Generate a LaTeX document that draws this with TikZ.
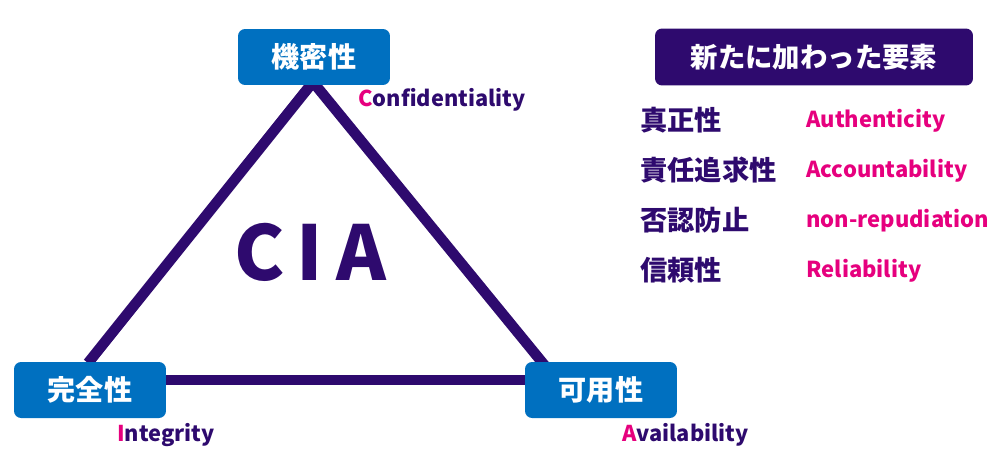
\documentclass[tikz,border=0pt]{standalone}
\usepackage{fontspec}
\setmainfont{Noto Sans CJK JP}
\begin{document}
\begin{tikzpicture}[x=0.02cm,y=-0.02cm,
  box/.style={fill=boxblue,rounded corners=4pt,text=white,font=\bfseries\fontsize{16}{18}\selectfont,minimum width=3.04cm,minimum height=1.12cm,inner sep=0pt},
  edge/.style={draw=cianavy,line width=6pt},
  lab/.style={text=cianavy,font=\bfseries\fontsize{12.4}{14}\selectfont,anchor=west,inner sep=0pt},
  jp/.style={text=cianavy,font=\bfseries\fontsize{15.5}{17}\selectfont,anchor=west,inner sep=0pt},
  en/.style={text=ciapink,font=\bfseries\fontsize{12.5}{14}\selectfont,anchor=west,inner sep=0pt}]
\definecolor{boxblue}{HTML}{0070C0}
\definecolor{cianavy}{HTML}{2E0A6E}
\definecolor{ciapink}{HTML}{E6007E}
\useasboundingbox (0,0) rectangle (1000,450);
\coordinate (T) at (313,82);
\coordinate (L) at (88,363);
\coordinate (R) at (546,367);
\draw[edge,line join=round] (L) -- (T) -- (R);
\draw[edge] (150,380) -- (540,380);
\node[box] (c) at (314,57) {機密性};
\node[box] (i) at (90,390) {完全性};
\node[box] (a) at (601,390) {可用性};
\node[text=cianavy,font=\bfseries\fontsize{43}{50}\selectfont] (cia) at (310,252) {C\,I\,A};
\node[lab] (lc) at (358,100) {\textcolor{ciapink}{C}onfidentiality};
\node[lab] (li) at (117,435) {\textcolor{ciapink}{I}ntegrity};
\node[lab] (la) at (622,435) {\textcolor{ciapink}{A}vailability};
\node[fill=cianavy,rounded corners=4pt,text=white,font=\bfseries\fontsize{15.6}{17}\selectfont,minimum width=6.36cm,minimum height=1.14cm] (new) at (814,57) {新たに加わった要素};
\node[jp] (j1) at (640,120) {真正性};
\node[jp] (j2) at (640,170) {責任追求性};
\node[jp] (j3) at (640,220) {否認防止};
\node[jp] (j4) at (640,270) {信頼性};
\node[en] (e1) at (806,121) {Authenticity};
\node[en] (e2) at (806,171) {Accountability};
\node[en] (e3) at (806,221) {non-repudiation};
\node[en] (e4) at (806,271) {Reliability};
\end{tikzpicture}
\end{document}
